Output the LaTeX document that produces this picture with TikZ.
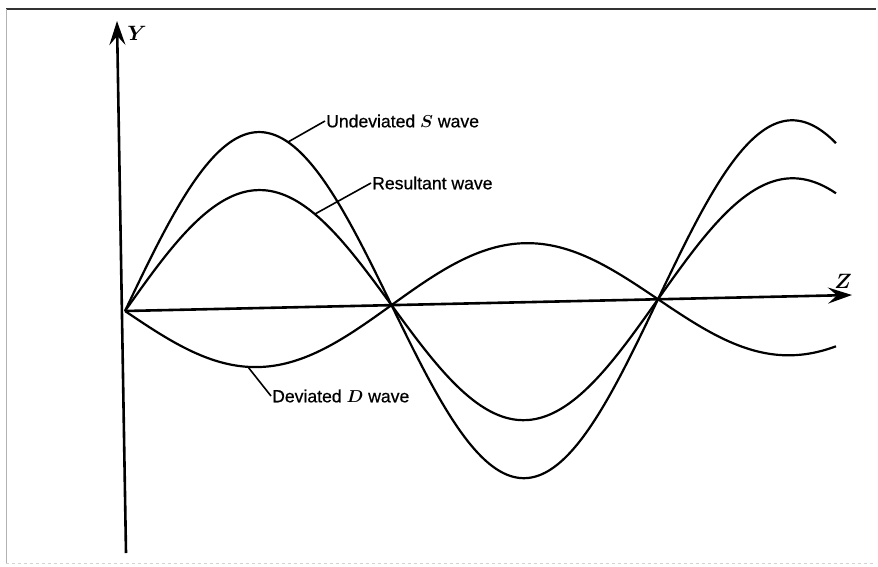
\documentclass[tikz,border=0pt]{standalone}
\usepackage{fontspec}
\setmainfont{Liberation Sans}
\newfontfamily\labfont[FakeBold=0.6]{Liberation Sans}
\usepackage{bm}
\usetikzlibrary{arrows.meta}
\tikzset{
  wavecurve/.style={line width=2.2pt, smooth, samples=160},
  axisline/.style={line width=2.6pt, -{Stealth[length=24pt,width=16pt,inset=9pt]}},
  leader/.style={line width=1.6pt},
  lab/.style={font=\fontsize{17.6}{21}\selectfont\labfont, inner sep=1pt}
}
\begin{document}
\begin{tikzpicture}[x=1pt,y=-1pt]
  \useasboundingbox (0,0) rectangle (878,566);
  % Frame
  \draw[black!80, line width=1.4pt] (6,9) -- (876,9);
  \draw[gray!60, line width=1pt] (6,9) -- (6,563);
  \draw[gray!35, line width=1pt, dashed] (6,563) -- (876,563);
  % Axes
  \coordinate (org) at (125,311);
  \coordinate (yFoot) at (126,553);
  \coordinate (yTip) at (117,21);
  \coordinate (zTip) at (852,295);
  \draw[axisline] (yFoot) -- (yTip);
  \draw[axisline] (org) -- (zTip);
  \node[lab] (yLab) at (137,33) {\fontsize{19.5}{22}\selectfont$\bm{Y}$};
  \node[lab] (zLab) at (843,281) {\fontsize{19.5}{22}\selectfont$\bm{Z}$};
  % Waves: undeviated S, resultant, deviated D
  \foreach \amp in {176, 118, -59} {
    \draw[wavecurve] plot[domain=125:836]
      (\x, {311 - 0.0221*(\x-125) - \amp*sin((\x-125)*0.6754)});
  }
  % Labels
  \node[lab, anchor=west] (sLab) at (325,121) {Undeviated $\bm{S}$ wave};
  \node[lab, anchor=west] (rLab) at (371,183) {Resultant wave};
  \node[lab, anchor=west] (dLab) at (271,396) {Deviated $\bm{D}$ wave};
  \coordinate (sPin) at (288,142);
  \coordinate (rPin) at (315,214);
  \coordinate (dPin) at (248,367);
  \draw[leader] (sPin) -- (sLab.west);
  \draw[leader] (rPin) -- (rLab.west);
  \draw[leader] (dPin) -- (dLab.west);
\end{tikzpicture}
\end{document}
